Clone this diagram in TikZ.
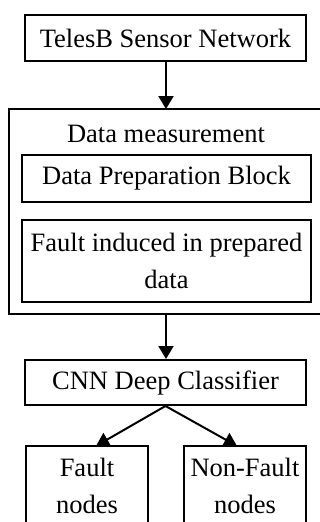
\documentclass[tikz,border=0pt]{standalone}
\usepackage{fontspec}
\setmainfont{Liberation Serif}
\usetikzlibrary{arrows.meta}
\begin{document}
\begin{tikzpicture}[x=1pt,y=-1pt,
  box/.style={draw,line width=2pt,inner sep=0pt,align=center,font=\fontsize{26.5}{37.5}\selectfont},
  txt/.style={inner sep=0pt,align=center,font=\fontsize{26.5}{37.5}\selectfont},
  arr/.style={line width=2pt,-{Triangle[width=15pt,length=13pt]}}]
\useasboundingbox (0,0) rectangle (320,522);
\clip (0,0) rectangle (320,522);
\node[box,minimum width=281pt,minimum height=46pt] (top) at (165.5,38) {TelesB Sensor Network};
\node[box,minimum width=321pt,minimum height=205pt] (outer) at (169.5,211.5) {};
\node[txt] (dm) at (166,134) {Data measurement};
\node[box,minimum width=289pt,minimum height=47pt] (prep) at (166.5,178.5) {Data Preparation Block};
\node[box,minimum width=289pt,minimum height=82pt] (fi) at (166.5,261) {Fault induced in prepared\\data};
\node[box,minimum width=281pt,minimum height=45pt] (cnn) at (165.5,382.5) {CNN Deep Classifier};
\node[box,minimum width=122pt,minimum height=80pt] (fault) at (87,486) {Fault\\nodes};
\node[box,minimum width=122pt,minimum height=80pt] (nonfault) at (245,486) {Non-Fault\\nodes};
\coordinate (outbot) at (166,314);
\coordinate (outtop) at (166,109);
\draw[arr] (top.south -| outtop) -- (outtop);
\draw[arr] (outbot) -- (cnn.north -| outbot);
\coordinate (ft) at (96,446);
\coordinate (nt) at (237,446);
\draw[arr] (cnn.south) -- (ft);
\draw[arr] (cnn.south) -- (nt);
\end{tikzpicture}
\end{document}
